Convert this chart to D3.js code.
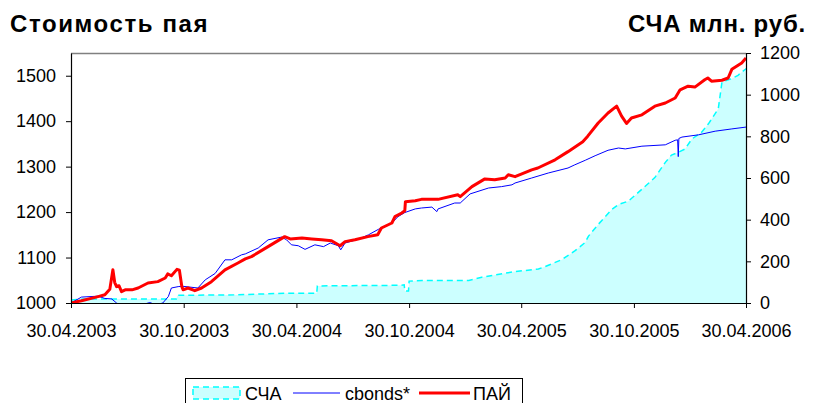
<!DOCTYPE html>
<html>
<head>
<meta charset="utf-8">
<script src="https://cdn.jsdelivr.net/npm/d3@7"></script>
<style>
  body { margin: 0; background: #fff; }
  svg { display: block; font-family: "Liberation Sans", Arial, sans-serif; }
  .axis { font-family: "Liberation Sans", Arial, sans-serif; }
  .axis text { font-size: 18px; fill: #000; }
  .axis path, .axis line { stroke: #000; }
  .title { font-size: 24px; font-weight: bold; letter-spacing: 0.8px; }
</style>
</head>
<body>
<div id="chart"></div>
<script>
// ПАЙ - стоимость пая (left axis)
const paiDates = ["2003-04-30","2003-05-17","2003-06-13","2003-06-24","2003-07-02","2003-07-07","2003-07-10","2003-07-13","2003-07-17","2003-07-21","2003-07-27","2003-08-07","2003-08-17","2003-09-02","2003-09-18","2003-09-30","2003-10-04","2003-10-10","2003-10-19","2003-10-23","2003-10-27","2003-10-29","2003-11-06","2003-11-17","2003-11-28","2003-12-14","2004-01-05","2004-01-26","2004-02-07","2004-02-17","2004-03-15","2004-04-11","2004-04-20","2004-05-09","2004-05-25","2004-06-10","2004-06-26","2004-07-10","2004-07-18","2004-08-03","2004-08-24","2004-09-09","2004-09-15","2004-10-02","2004-10-07","2004-10-18","2004-10-23","2004-10-24","2004-11-09","2004-11-19","2004-12-16","2005-01-17","2005-01-21","2005-02-09","2005-03-02","2005-03-18","2005-04-04","2005-04-09","2005-04-20","2005-05-17","2005-05-27","2005-06-24","2005-07-15","2005-08-08","2005-08-16","2005-09-02","2005-09-18","2005-10-02","2005-10-10","2005-10-18","2005-10-26","2005-11-12","2005-12-03","2005-12-20","2006-01-05","2006-01-13","2006-01-26","2006-02-06","2006-02-22","2006-02-27","2006-03-05","2006-03-22","2006-04-01","2006-04-07","2006-04-23","2006-04-30"];
const paiValues = [1000,1005,1014,1018,1030,1073,1045,1036,1038,1025,1029,1029,1033,1044,1047,1055,1064,1060,1074,1072,1036,1029,1033,1027,1033,1047,1073,1088,1097,1102,1124,1146,1141,1143,1141,1139,1137,1126,1135,1139,1146,1150,1165,1176,1190,1198,1203,1223,1225,1228,1228,1238,1234,1256,1273,1271,1275,1282,1278,1293,1297,1315,1333,1355,1367,1396,1418,1433,1411,1395,1407,1414,1433,1440,1451,1469,1477,1475,1491,1495,1488,1490,1495,1514,1528,1539];

// cbonds* (left axis)
const cbondsDates = ["2003-04-30","2003-05-17","2003-06-13","2003-06-24","2003-07-05","2003-07-13","2003-07-25","2003-08-20","2003-09-05","2003-09-15","2003-09-26","2003-10-05","2003-10-10","2003-10-21","2003-10-27","2003-11-22","2003-12-04","2003-12-20","2004-01-05","2004-01-16","2004-02-01","2004-02-07","2004-02-28","2004-03-15","2004-04-06","2004-04-14","2004-04-22","2004-05-03","2004-05-14","2004-05-30","2004-06-13","2004-06-24","2004-07-07","2004-07-11","2004-07-18","2004-08-08","2004-08-25","2004-09-10","2004-10-02","2004-10-12","2004-10-23","2004-11-09","2004-11-19","2004-12-06","2004-12-14","2004-12-16","2005-01-12","2005-01-21","2005-02-06","2005-03-08","2005-03-29","2005-04-15","2005-04-20","2005-05-17","2005-06-13","2005-07-15","2005-07-26","2005-08-12","2005-08-28","2005-09-18","2005-10-05","2005-10-16","2005-11-12","2005-12-20","2006-01-05","2006-01-09","2006-01-10","2006-01-11","2006-01-16","2006-02-12","2006-03-11","2006-04-07","2006-04-30"];
const cbondsValues = [1000,1013,1015,1010,1009,1000,992,995,1001,996,1000,1014,1033,1036,1037,1033,1051,1065,1095,1095,1106,1108,1121,1139,1145,1139,1128,1126,1118,1128,1124,1132,1126,1117,1132,1140,1150,1162,1176,1190,1199,1207,1209,1211,1201,1207,1220,1220,1240,1253,1256,1260,1264,1275,1286,1297,1304,1314,1324,1336,1341,1339,1345,1348,1358,1359,1322,1362,1365,1370,1378,1383,1387];

// СЧА млн. руб. (right axis)
const schaDates = ["2003-04-30","2003-05-20","2003-10-18","2003-10-20","2004-01-20","2004-04-15","2004-06-02","2004-06-03","2004-10-15","2004-10-22","2004-10-23","2004-10-29","2004-10-30","2004-11-20","2004-12-16","2005-02-04","2005-02-25","2005-04-04","2005-04-20","2005-05-28","2005-06-08","2005-07-05","2005-07-26","2005-08-12","2005-08-17","2005-09-02","2005-09-24","2005-10-05","2005-10-21","2005-11-12","2005-12-03","2005-12-20","2005-12-30","2006-01-10","2006-01-21","2006-02-01","2006-02-17","2006-02-28","2006-03-16","2006-03-22","2006-04-07","2006-04-17","2006-04-29","2006-04-30"];
const schaValues = [14,19,19,37,39,47,47,82,85,87,58,58,105,108,108,108,124,143,151,163,175,208,250,291,320,377,449,473,489,546,602,675,710,723,739,787,820,860,932,1061,1077,1093,1122,1125];

const xTickDates = ["2003-04-30","2003-10-30","2004-04-30","2004-10-30","2005-04-30","2005-10-30","2006-04-30"];
const leftTicks = [1000,1100,1200,1300,1400,1500];
const rightTicks = [0,200,400,600,800,1000,1200];

const parse = d3.timeParse("%Y-%m-%d");
const zip = (ds, vs) => ds.map((d, i) => ({ date: parse(d), value: vs[i] }));
const pai = zip(paiDates, paiValues);
const cbonds = zip(cbondsDates, cbondsValues);
const scha = zip(schaDates, schaValues);

const w = 815, h = 403;
const margin = { top: 53, right: 69, bottom: 100, left: 71 };
const width = w - margin.left - margin.right;
const height = 303 - margin.top;

const svg = d3.select("#chart").append("svg")
  .attr("width", w)
  .attr("height", h);

const x = d3.scaleTime()
  .domain([parse("2003-04-30"), parse("2006-04-30")])
  .range([0, width]);
const yL = d3.scaleLinear().domain([1000, 1550]).range([height, 0]);
const yR = d3.scaleLinear().domain([0, 1200]).range([height, 0]);

const chart = svg.append("g")
  .attr("transform", "translate(" + margin.left + "," + margin.top + ")");

chart.append("clipPath").attr("id", "plotclip")
  .append("rect").attr("width", width).attr("height", height);

// plot frame (top border is grey)
chart.append("line")
  .attr("x1", 0).attr("x2", width).attr("y1", 0.5).attr("y2", 0.5)
  .attr("stroke", "#808080").attr("stroke-width", 1.5);

const plot = chart.append("g").attr("clip-path", "url(#plotclip)");

// СЧА area
plot.append("path")
  .datum(scha)
  .attr("fill", "#ccffff")
  .attr("d", d3.area().x(d => x(d.date)).y0(height).y1(d => yR(d.value)));
plot.append("path")
  .datum(scha)
  .attr("fill", "none")
  .attr("stroke", "#00ffff")
  .attr("stroke-width", 1.5)
  .attr("stroke-dasharray", "6,4")
  .attr("d", d3.line().x(d => x(d.date)).y(d => yR(d.value)));

// cbonds line
plot.append("path")
  .datum(cbonds)
  .attr("fill", "none")
  .attr("stroke", "#0000ff")
  .attr("stroke-width", 1)
  .attr("d", d3.line().x(d => x(d.date)).y(d => yL(d.value)));

// ПАЙ line
plot.append("path")
  .datum(pai)
  .attr("fill", "none")
  .attr("stroke", "#ff0000")
  .attr("stroke-width", 3)
  .attr("stroke-linejoin", "round")
  .attr("d", d3.line().x(d => x(d.date)).y(d => yL(d.value)));

// axes
chart.append("g")
  .classed("axis", true)
  .call(d3.axisLeft(yL).tickValues(leftTicks).tickFormat(d3.format("d")).tickSize(5).tickSizeOuter(0).tickPadding(10));

chart.append("g")
  .classed("axis", true)
  .attr("transform", "translate(" + width + ",0)")
  .call(d3.axisRight(yR).tickValues(rightTicks).tickFormat(d3.format("d")).tickSize(5).tickSizeOuter(0).tickPadding(9));

chart.append("g")
  .classed("axis", true)
  .attr("transform", "translate(0," + height + ")")
  .call(d3.axisBottom(x).tickValues(xTickDates.map(parse)).tickFormat(d3.timeFormat("%d.%m.%Y")).tickSize(5).tickSizeOuter(0).tickPadding(16));

chart.selectAll(".axis path").attr("stroke-width", 1.2);

// titles
svg.append("text")
  .classed("title", true)
  .attr("x", 10).attr("y", 32)
  .style("letter-spacing", "1.6px")
  .text("Стоимость пая");
svg.append("text")
  .classed("title", true)
  .attr("x", 806).attr("y", 32)
  .attr("text-anchor", "end")
  .text("СЧА млн. руб.");

// legend
const legend = svg.append("g").attr("transform", "translate(185,378)");
legend.append("rect")
  .attr("x", 0.5).attr("y", 0.5).attr("width", 337).attr("height", 30)
  .attr("fill", "#fff").attr("stroke", "#000");
legend.append("rect")
  .attr("x", 8).attr("y", 9).attr("width", 47).attr("height", 12)
  .attr("fill", "#ccffff").attr("stroke", "#00ffff")
  .attr("stroke-width", 1.5).attr("stroke-dasharray", "6,4");
legend.append("text").attr("x", 60).attr("y", 21.5).style("font-size", "18px").text("СЧА");
legend.append("line")
  .attr("x1", 108).attr("x2", 155).attr("y1", 15).attr("y2", 15)
  .attr("stroke", "#0000ff").attr("stroke-width", 1);
legend.append("text").attr("x", 160).attr("y", 21.5).style("font-size", "18px").text("cbonds*");
legend.append("line")
  .attr("x1", 234).attr("x2", 285).attr("y1", 15).attr("y2", 15)
  .attr("stroke", "#ff0000").attr("stroke-width", 3);
legend.append("text").attr("x", 288).attr("y", 21.5).style("font-size", "18px").text("ПАЙ");
</script>
</body>
</html>
